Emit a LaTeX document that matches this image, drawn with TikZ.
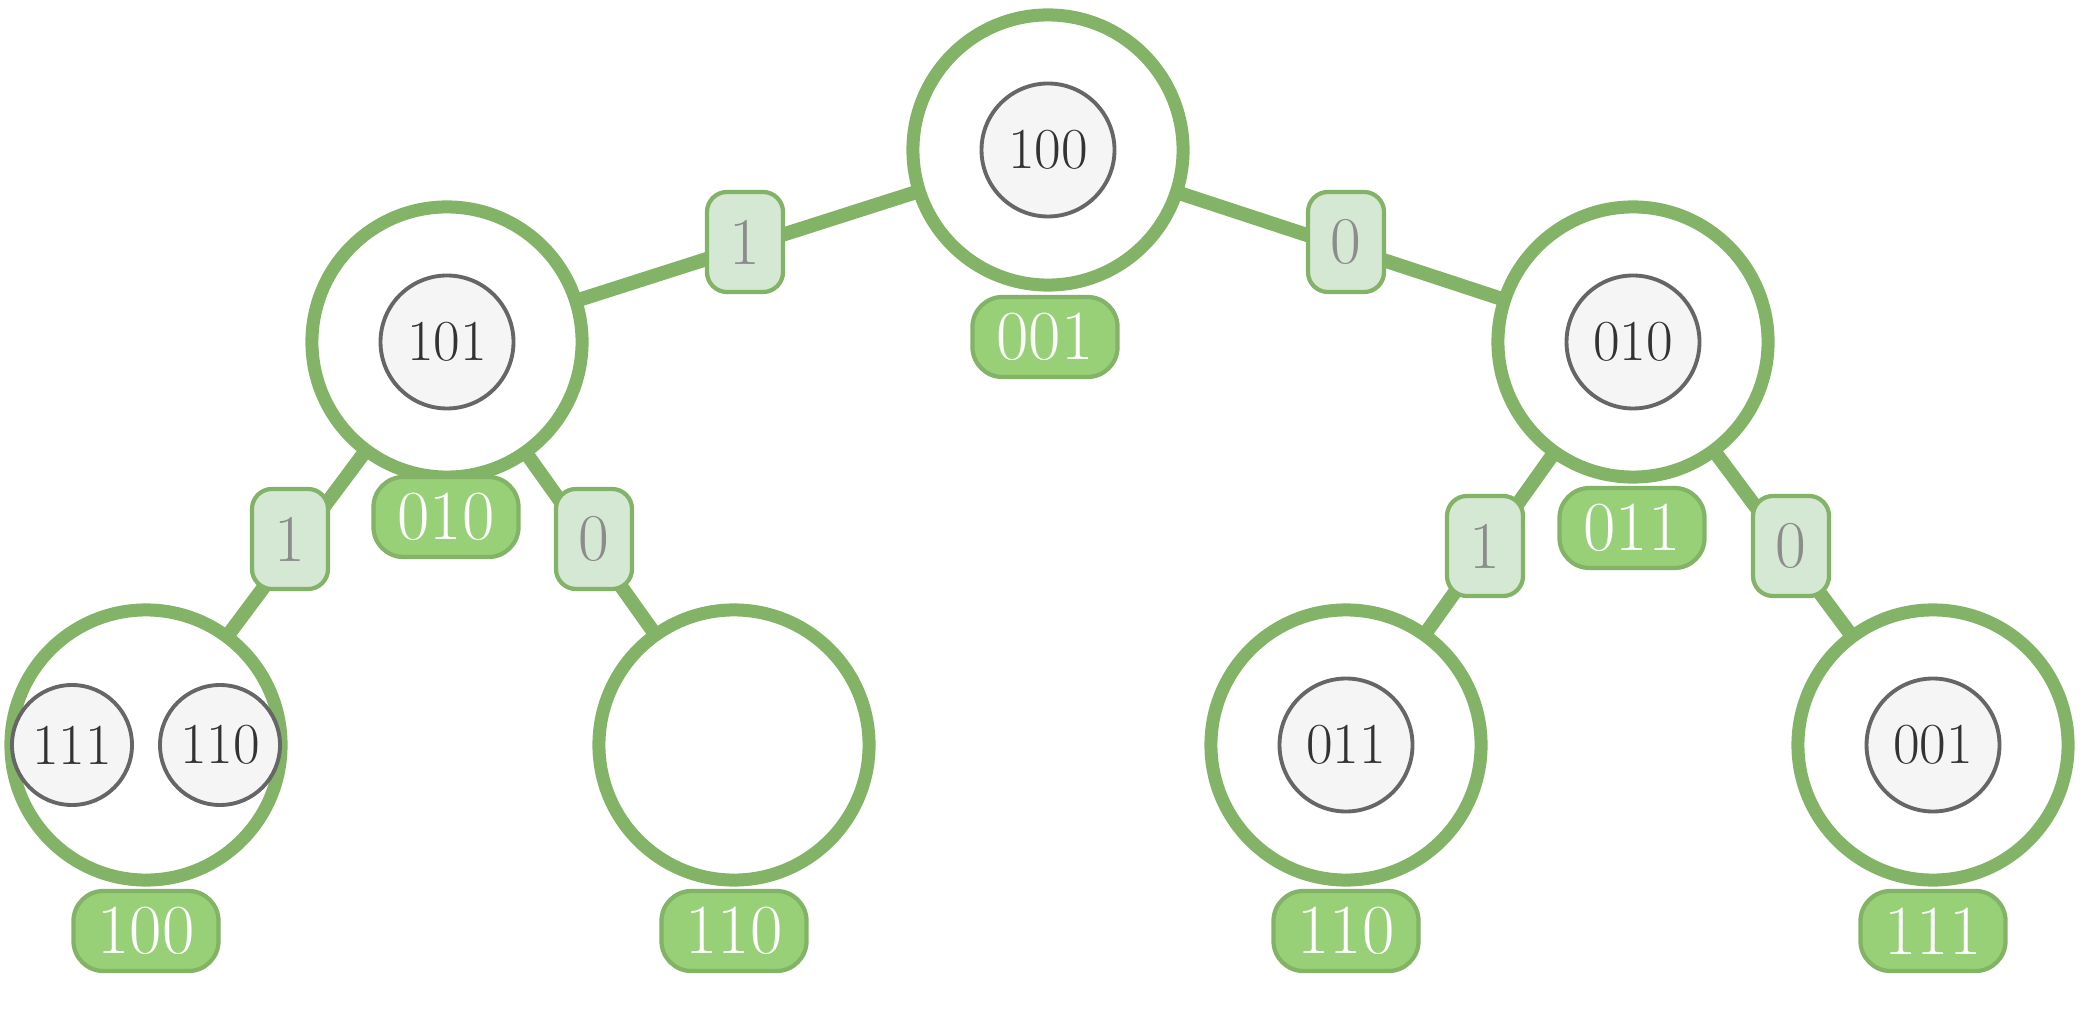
\documentclass[tikz,border=0pt]{standalone}
\begin{document}
\begin{tikzpicture}[x=0.01cm,y=-0.01cm,
 big/.style={circle,draw=eg,line width=3.7pt,fill=white,minimum size=2.7cm,inner sep=0pt},
 inner/.style={circle,draw=ig,line width=1.1pt,fill=ifill,minimum size=#1*0.01cm,inner sep=0pt,text=tx,font=\fontsize{16.5}{18}\selectfont},
 inner/.default=133,
 gl/.style={rounded corners=0.3cm,draw=eg,line width=1.2pt,fill=gfill,minimum width=1.45cm,minimum height=0.8cm,inner sep=0pt,text=white,font=\fontsize{20}{22}\selectfont},
 el/.style={rounded corners=0.2cm,draw=eg,line width=1.2pt,fill=efill,minimum width=0.76cm,minimum height=1.0cm,inner sep=0pt,text=etx,font=\fontsize{19}{21}\selectfont},
 edge/.style={draw=eg,line width=4pt}]
\definecolor{eg}{HTML}{82B366}\definecolor{ig}{HTML}{666666}\definecolor{ifill}{HTML}{F5F5F5}
\definecolor{gfill}{HTML}{97D077}\definecolor{efill}{HTML}{D5E8D4}\definecolor{tx}{HTML}{333333}\definecolor{etx}{HTML}{8C8C8C}
\useasboundingbox (0,0) rectangle (2085,1025);
\coordinate (r) at (1048,150);
\coordinate (a) at (447,342);
\coordinate (b) at (1633,342);
\coordinate (c) at (146,745);
\coordinate (d) at (734,745);
\coordinate (e) at (1346,745);
\coordinate (f) at (1933,745);
\draw[edge] (r)--(a) (r)--(b) (a)--(c) (a)--(d) (b)--(e) (b)--(f);
\node[big] (R) at (r) {};
\node[big] (A) at (a) {};
\node[big] (B) at (b) {};
\node[big] (C) at (c) {};
\node[big] (D) at (d) {};
\node[big] (E) at (e) {};
\node[big] (F) at (f) {};
\node[inner] (iR) at (r) {100};
\node[inner] (iA) at (a) {101};
\node[inner] (iB) at (b) {010};
\node[inner] (iE) at (e) {011};
\node[inner] (iF) at (f) {001};
\node[inner=120] (iC1) at (72,745) {111};
\node[inner=120] (iC2) at (220,745) {110};
\node[gl] (gR) at (1045,337) {001};
\node[gl] (gA) at (446,517) {010};
\node[gl] (gB) at (1632,528) {011};
\node[gl] (gC) at (146,931) {100};
\node[gl] (gD) at (734,931) {110};
\node[gl] (gE) at (1346,931) {110};
\node[gl] (gF) at (1933,931) {111};
\node[el] (e1) at (745,242) {1};
\node[el] (e2) at (1346,242) {0};
\node[el] (e3) at (290,539) {1};
\node[el] (e4) at (594,539) {0};
\node[el] (e5) at (1485,546) {1};
\node[el] (e6) at (1791,546) {0};
\end{tikzpicture}
\end{document}
